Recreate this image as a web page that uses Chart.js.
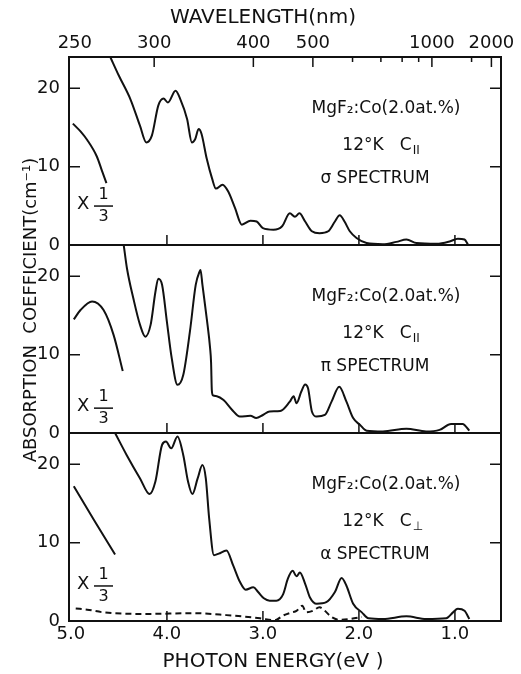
<!DOCTYPE html>
<html>
<head>
<meta charset="utf-8">
<script src="https://cdn.jsdelivr.net/npm/chart.js@4.4.1/dist/chart.umd.min.js"></script>
<style>
  html, body { margin: 0; padding: 0; background: #fff; }
  #wrap { width: 521px; height: 674px; }
</style>
</head>
<body>
<div id="wrap"><canvas id="spectra" width="521" height="674"></canvas></div>
<script>
// --- DATA ---
const energyTicks = [5.0, 4.0, 3.0, 2.0, 1.0];          // eV, bottom axis
const coefTicks = [0, 10, 20];                           // cm-1, each panel
const wavelengthLabels = [250, 300, 400, 500, 1000, 2000]; // nm, top axis
const wavelengthMajor = [300, 400, 500, 1000, 2000];
const wavelengthMinor = [600, 700, 800, 900, 1500];

// sigma spectrum, C||
const sigmaEnergy = [4.59, 4.50, 4.38, 4.28, 4.215, 4.156, 4.09, 4.035, 3.99, 3.91, 3.86, 3.79, 3.74, 3.706, 3.67, 3.64, 3.585, 3.53, 3.49, 3.42, 3.36, 3.29, 3.22, 3.13, 3.065, 3.0, 2.89, 2.80, 2.72, 2.667, 2.62, 2.56, 2.49, 2.41, 2.32, 2.25, 2.20, 2.15, 2.095, 2.025, 1.92, 1.75, 1.61, 1.505, 1.40, 1.19, 1.055, 0.97, 0.90, 0.865];
const sigmaCoef   = [24.0, 21.6, 18.6, 15.2, 13.1, 14.0, 17.8, 18.7, 18.2, 19.7, 18.6, 16.1, 13.1, 13.5, 14.8, 14.2, 11.0, 8.5, 7.2, 7.7, 6.8, 4.7, 2.6, 3.1, 3.0, 2.15, 1.95, 2.4, 4.05, 3.6, 4.05, 3.0, 1.75, 1.5, 1.75, 3.0, 3.8, 3.0, 1.75, 0.9, 0.25, 0.1, 0.4, 0.7, 0.25, 0.15, 0.45, 0.8, 0.7, 0.1];
const sigmaThirdEnergy = [4.98, 4.90, 4.83, 4.73, 4.68, 4.63];
const sigmaThirdCoef   = [15.5, 14.5, 13.4, 11.3, 9.6, 7.9];

// pi spectrum, C||
const piEnergy = [4.45, 4.416, 4.35, 4.28, 4.225, 4.17, 4.12, 4.09, 4.05, 4.0, 3.95, 3.89, 3.83, 3.76, 3.70, 3.66, 3.65, 3.63, 3.585, 3.55, 3.54, 3.532, 3.52, 3.48, 3.41, 3.325, 3.24, 3.13, 3.07, 3.0, 2.93, 2.82, 2.72, 2.68, 2.65, 2.60, 2.56, 2.53, 2.49, 2.44, 2.355, 2.285, 2.205, 2.13, 2.06, 1.99, 1.92, 1.75, 1.505, 1.30, 1.16, 1.04, 0.92, 0.85];
const piCoef   = [24.0, 21.0, 17.2, 13.8, 12.3, 13.8, 18.0, 19.7, 18.9, 14.2, 9.55, 6.15, 7.4, 13.0, 18.9, 20.6, 20.8, 18.9, 14.6, 10.8, 9.0, 5.4, 4.8, 4.7, 4.2, 3.0, 2.1, 2.2, 1.9, 2.3, 2.75, 2.8, 4.0, 4.7, 3.8, 5.3, 6.2, 5.7, 2.75, 2.1, 2.3, 4.0, 5.9, 4.0, 1.9, 1.05, 0.3, 0.2, 0.55, 0.2, 0.4, 1.15, 1.15, 0.3];
const piThirdEnergy = [4.97, 4.90, 4.78, 4.66, 4.555, 4.46];
const piThirdCoef   = [14.5, 15.7, 16.8, 15.7, 12.5, 7.9];

// alpha spectrum, C perpendicular
const alphaEnergy = [4.54, 4.42, 4.28, 4.18, 4.12, 4.05, 4.01, 3.955, 3.89, 3.83, 3.78, 3.735, 3.68, 3.63, 3.595, 3.56, 3.51, 3.46, 3.38, 3.31, 3.24, 3.18, 3.10, 3.05, 2.99, 2.93, 2.86, 2.79, 2.74, 2.69, 2.65, 2.615, 2.56, 2.51, 2.44, 2.34, 2.25, 2.18, 2.13, 2.06, 1.97, 1.90, 1.75, 1.505, 1.30, 1.09, 1.02, 0.97, 0.90, 0.85];
const alphaCoef   = [24.0, 21.2, 18.2, 16.2, 17.8, 22.5, 22.9, 22.05, 23.55, 21.2, 17.8, 16.2, 18.2, 19.9, 18.2, 13.1, 8.4, 8.6, 9.0, 7.1, 5.0, 4.0, 4.3, 3.7, 2.9, 2.6, 2.6, 3.4, 5.4, 6.4, 5.7, 6.2, 4.75, 3.0, 2.2, 2.4, 3.7, 5.5, 4.5, 2.2, 1.1, 0.35, 0.25, 0.6, 0.25, 0.35, 1.1, 1.55, 1.3, 0.25];
const alphaThirdEnergy = [4.97, 4.76, 4.54];
const alphaThirdCoef   = [17.2, 12.9, 8.5];
const alphaDashEnergy = [4.95, 4.83, 4.66, 4.24, 3.72, 3.38, 3.03, 2.875, 2.79, 2.70, 2.65, 2.59, 2.55, 2.48, 2.41, 2.355, 2.285, 2.20, 2.095, 1.97];
const alphaDashCoef   = [1.6, 1.45, 1.1, 0.9, 1.0, 0.75, 0.35, 0.1, 0.7, 1.1, 1.3, 1.95, 1.1, 1.3, 1.75, 1.3, 0.5, 0.15, 0.25, 0.5];

// --- STYLE ---
const INK = '#111';
const FONT = '"DejaVu Sans", sans-serif';
const E_MIN = 0.52, E_MAX = 5.02, K_MAX = 24;
const HC = 1239.84; // eV*nm

const panels = [
  { axis: 'ySigma', symbol: 'σ', sub: 'II', thirdAt: 5.1 },
  { axis: 'yPi',    symbol: 'π', sub: 'II', thirdAt: 3.3 },
  { axis: 'yAlpha', symbol: 'α', sub: '⊥',  thirdAt: 4.6 }
];

const pts = (es, ks) => es.map((e, i) => ({ x: e, y: ks[i] }));

function curve(es, ks, axis, dash) {
  return {
    data: pts(es, ks),
    yAxisID: axis,
    borderColor: INK,
    borderWidth: 2,
    borderDash: dash ? [6, 4] : [],
    pointRadius: 0,
    fill: false,
    cubicInterpolationMode: 'monotone'
  };
}

function panelAxis() {
  return {
    axis: 'y',
    type: 'linear',
    position: 'left',
    stack: 'panels',
    stackWeight: 1,
    min: 0,
    max: K_MAX,
    afterBuildTicks: s => { s.ticks = coefTicks.map(v => ({ value: v })); },
    afterFit: s => { s.width = 69; },
    ticks: { padding: 9, color: INK, font: { family: FONT, size: 18 } },
    grid: { display: false, drawTicks: false },
    border: { display: false }
  };
}

// frame, inward ticks, notes and titles
const decor = {
  id: 'decor',
  afterDatasetsDraw(chart) {
    const { ctx, chartArea: a, scales } = chart;
    const x = scales.x;
    ctx.save();
    ctx.strokeStyle = INK;
    ctx.fillStyle = INK;

    panels.forEach(p => {
      const y = scales[p.axis];
      ctx.lineWidth = 2;
      ctx.strokeRect(a.left, y.top, a.right - a.left, y.bottom - y.top);

      ctx.lineWidth = 1.5;
      ctx.beginPath();
      coefTicks.forEach(v => {
        if (v === 0) return;
        const py = y.getPixelForValue(v);
        ctx.moveTo(a.left, py); ctx.lineTo(a.left + 11, py);
        ctx.moveTo(a.right, py); ctx.lineTo(a.right - 11, py);
      });
      energyTicks.forEach(e => {
        const px = x.getPixelForValue(e);
        if (px < a.left + 3) return;
        ctx.moveTo(px, y.bottom); ctx.lineTo(px, y.bottom - 10);
      });
      ctx.stroke();

      // sample note
      ctx.textBaseline = 'middle';
      ctx.font = '17px ' + FONT;
      ctx.textAlign = 'center';
      ctx.fillText('MgF₂:Co(2.0at.%)', 386, y.getPixelForValue(17.4));
      const main = '12°K   C';
      const w = ctx.measureText(main).width;
      ctx.textAlign = 'left';
      const lx = 381 - w / 2 - 4;
      const ly = y.getPixelForValue(12.7);
      ctx.fillText(main, lx, ly);
      ctx.font = '12px ' + FONT;
      ctx.fillText(p.sub, lx + w + 1, ly + 5);
      ctx.font = '17px ' + FONT;
      ctx.textAlign = 'center';
      ctx.fillText(p.symbol + ' SPECTRUM', 375, y.getPixelForValue(8.5));

      // "X 1/3" scale mark
      const cy = y.getPixelForValue(p.thirdAt);
      ctx.font = '18px ' + FONT;
      ctx.textAlign = 'left';
      ctx.fillText('X', 77, cy - 1);
      ctx.textAlign = 'center';
      ctx.font = '16px ' + FONT;
      ctx.fillText('1', 103.5, cy - 10);
      ctx.fillText('3', 103.5, cy + 12);
      ctx.beginPath();
      ctx.moveTo(94, cy + 1); ctx.lineTo(113, cy + 1);
      ctx.stroke();
    });

    // wavelength ticks along the top
    const xt = scales.x2;
    ctx.lineWidth = 1.5;
    ctx.beginPath();
    wavelengthMajor.forEach(w => {
      const px = xt.getPixelForValue(HC / w);
      ctx.moveTo(px, a.top); ctx.lineTo(px, a.top + 10);
    });
    wavelengthMinor.forEach(w => {
      const px = xt.getPixelForValue(HC / w);
      ctx.moveTo(px, a.top); ctx.lineTo(px, a.top + 5);
    });
    ctx.stroke();

    // axis titles
    ctx.textAlign = 'center';
    ctx.textBaseline = 'middle';
    ctx.font = '20px ' + FONT;
    ctx.fillText('WAVELENGTH(nm)', 263, 18);
    ctx.fillText('PHOTON ENERGY(eV )', 273, 662);
    ctx.save();
    ctx.translate(31, 310);
    ctx.rotate(-Math.PI / 2);
    ctx.font = '18px ' + FONT;
    ctx.fillText('ABSORPTION  COEFFICIENT(cm⁻¹)', 0, 0);
    ctx.restore();

    ctx.restore();
  }
};

new Chart(document.getElementById('spectra'), {
  type: 'line',
  data: {
    datasets: [
      curve(sigmaEnergy, sigmaCoef, 'ySigma'),
      curve(sigmaThirdEnergy, sigmaThirdCoef, 'ySigma'),
      curve(piEnergy, piCoef, 'yPi'),
      curve(piThirdEnergy, piThirdCoef, 'yPi'),
      curve(alphaEnergy, alphaCoef, 'yAlpha'),
      curve(alphaThirdEnergy, alphaThirdCoef, 'yAlpha'),
      curve(alphaDashEnergy, alphaDashCoef, 'yAlpha', true)
    ]
  },
  options: {
    responsive: false,
    devicePixelRatio: 1,
    animation: false,
    layout: { padding: { left: 0, right: 20, top: 0, bottom: 0 } },
    plugins: { legend: { display: false }, tooltip: { enabled: false } },
    scales: {
      x: {
        type: 'linear',
        position: 'bottom',
        reverse: true,
        min: E_MIN,
        max: E_MAX,
        afterBuildTicks: s => { s.ticks = energyTicks.map(v => ({ value: v })); },
        afterFit: s => { s.height = 53; },
        ticks: { padding: 3, autoSkip: false, maxRotation: 0, color: INK, font: { family: FONT, size: 18 }, callback: v => v.toFixed(1) },
        grid: { display: false, drawTicks: false },
        border: { display: false }
      },
      x2: {
        axis: 'x',
        type: 'linear',
        position: 'top',
        reverse: true,
        min: E_MIN,
        max: E_MAX,
        afterBuildTicks: s => { s.ticks = wavelengthLabels.map(w => ({ value: HC / w })); },
        afterFit: s => { s.height = 57; },
        ticks: { padding: 3, autoSkip: false, maxRotation: 0, color: INK, font: { family: FONT, size: 18 }, callback: (v, i) => String(wavelengthLabels[i]) },
        grid: { display: false, drawTicks: false },
        border: { display: false }
      },
      yAlpha: panelAxis(),
      yPi: panelAxis(),
      ySigma: panelAxis()
    }
  },
  plugins: [decor]
});
</script>
</body>
</html>
